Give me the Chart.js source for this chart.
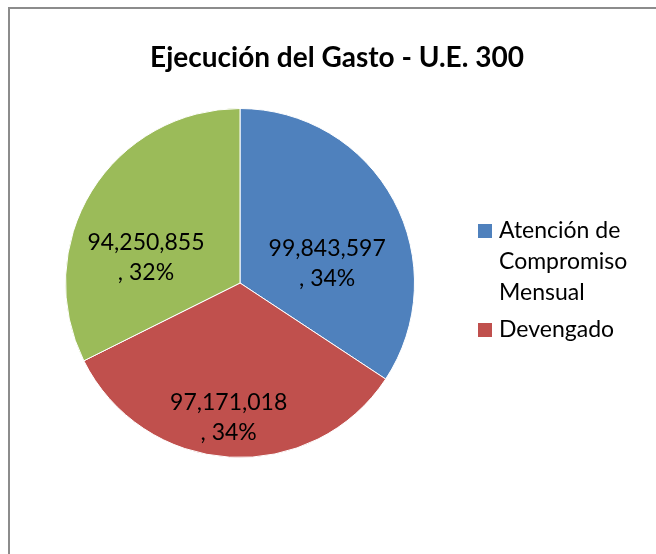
<!DOCTYPE html>
<html>
<head>
<meta charset="utf-8">
<script src="https://cdn.jsdelivr.net/npm/chart.js@4"></script>
<style>
  html, body { margin: 0; padding: 0; background: #fff; overflow: hidden; }
  #frame {
    position: absolute; left: 8px; top: 7px; width: 700px; height: 600px;
    border-left: 2px solid #8c8c8c; border-top: 2px solid #8c8c8c;
  }
  #gasto_chart { position: absolute; left: 0; top: 0; }
</style>
</head>
<body>
<div id="frame"></div>
<canvas id="gasto_chart" width="656" height="554"></canvas>
<script>
const chartTitle = "Ejecución del Gasto - U.E. 300";
const categories = ["Atención de Compromiso Mensual", "Devengado", ""];
const legendLines = [["Atención de", "Compromiso", "Mensual"], ["Devengado"], []];
const gastoValues = [99843597, 97171018, 94250855];
const percentLabels = ["34%", "34%", "32%"];
const sliceColors = ["#4f81bd", "#c0504d", "#9bbb59"];

const fontName = "Lato, 'Open Sans', sans-serif";

// title, legend and slice labels drawn on the canvas
const textPlugin = {
  id: "textPlugin",
  afterDatasetsDraw(chart) {
    const ctx = chart.ctx;
    const meta = chart.getDatasetMeta(0);
    ctx.save();
    ctx.fillStyle = "#000";
    ctx.textAlign = "center";
    ctx.textBaseline = "middle";

    // labels inside slices
    ctx.font = "23px " + fontName;
    meta.data.forEach(function(arc, i) {
      const mid = (arc.startAngle + arc.endAngle) / 2;
      const r = arc.outerRadius * 0.6;
      const x = arc.x + Math.cos(mid) * r - 5;
      const y = arc.y + Math.sin(mid) * r + 30;
      ctx.fillText(gastoValues[i].toLocaleString("en-US"), x, y - 15);
      ctx.fillText(", " + percentLabels[i], x, y + 15);
    });

    // title
    ctx.font = "bold 28px " + fontName;
    ctx.fillText(chartTitle, 337, 58);

    // legend
    ctx.textAlign = "left";
    ctx.font = "23px " + fontName;
    let y = 231;
    legendLines.forEach(function(lines, i) {
      if (lines.length === 0) return;
      ctx.fillStyle = sliceColors[i];
      ctx.fillRect(478, y - 7, 14, 14);
      ctx.fillStyle = "#000";
      lines.forEach(function(line) {
        ctx.fillText(line, 499, y);
        y += 31;
      });
      y += 6;
    });
    ctx.restore();
  }
};

const ctx = document.getElementById("gasto_chart").getContext("2d");
const gasto_chart = new Chart(ctx, {
  type: "pie",
  data: {
    labels: categories,
    datasets: [{
      data: gastoValues,
      backgroundColor: sliceColors,
      borderColor: "#ffffff",
      borderWidth: 1
    }]
  },
  options: {
    responsive: false,
    animation: false,
    layout: {
      padding: { top: 108, bottom: 96, left: 65, right: 241 }
    },
    plugins: {
      legend: { display: false },
      title: { display: false },
      tooltip: { enabled: false }
    }
  },
  plugins: [textPlugin]
});
</script>
</body>
</html>
